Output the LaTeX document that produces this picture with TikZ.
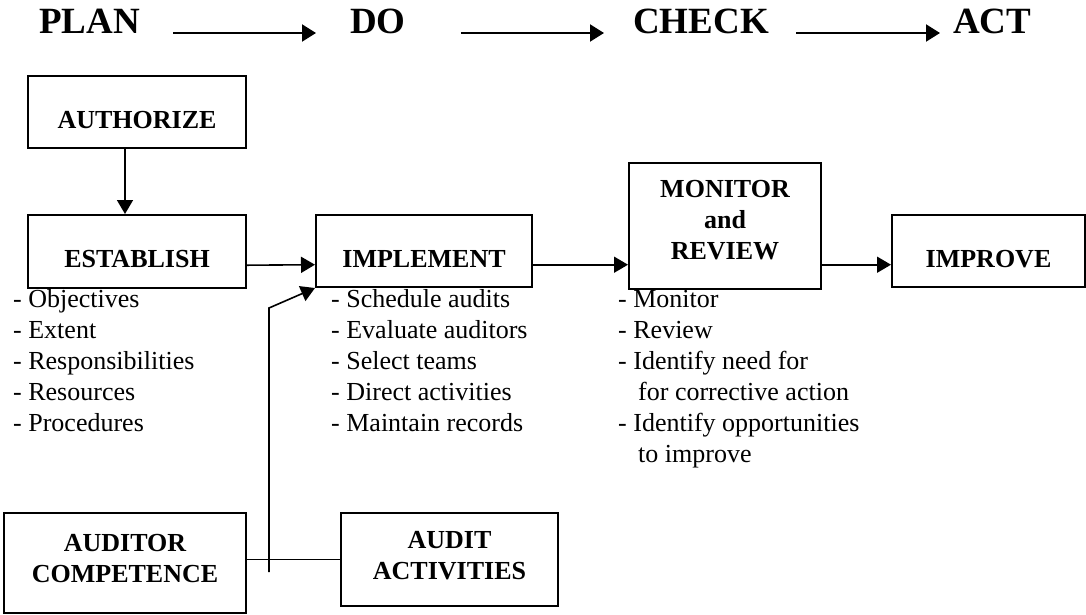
\documentclass[tikz,border=0pt]{standalone}
\usepackage{fontspec}
\setmainfont{Liberation Serif}
\usetikzlibrary{arrows.meta,positioning}

\tikzset{
	phase/.style={font=\fontsize{37}{44}\selectfont\bfseries, inner sep=0pt, anchor=base west},
	stage/.style={draw, line width=2pt, font=\fontsize{26}{31}\selectfont\bfseries, align=center},
	oneline/.style={text height=34pt, text depth=2pt},
	items/.style={font=\fontsize{26}{31}\selectfont, align=left, inner sep=0pt, anchor=base west},
	link/.style={line width=1.6pt, -{Triangle[length=14pt,width=16pt]}},
	bigarrow/.style={line width=2pt, -{Triangle[length=14pt,width=17pt]}}
}

\begin{document}
\begin{tikzpicture}[x=1pt, y=-1pt]
	\useasboundingbox (0,0) rectangle (1086,614);

	\node[phase] (plan) at (39,33) {PLAN};
	\node[phase] (do) at (350,33) {DO};
	\node[phase] (check) at (633,33) {CHECK};
	\node[phase] (act) at (953,33) {ACT};

	\draw[bigarrow] ([xshift=33pt]plan.base east) -- ([xshift=-34pt]do.base west);
	\draw[bigarrow] ([xshift=55pt]do.base east) -- ([xshift=-29pt]check.base west);
	\draw[bigarrow] ([xshift=27pt]check.base east) -- ([xshift=-13pt]act.base west);

	\node[stage, oneline, minimum width=218pt, minimum height=72pt] (auth) at (137,112) {AUTHORIZE};
	\node[stage, oneline, minimum width=218pt, minimum height=73pt] (est) at (137,251.5) {ESTABLISH};
	\node[stage, oneline, minimum width=216pt, minimum height=72pt] (impl) at (424,251) {IMPLEMENT};
	\node[stage, text depth=12pt, minimum width=192pt, minimum height=126pt] (mon) at (725,226) {MONITOR\\and\\REVIEW};
	\node[stage, oneline, minimum width=193pt, minimum height=72pt] (impr) at (988.5,251) {IMPROVE};
	\node[stage, text depth=9pt, minimum width=242pt, minimum height=100pt] (comp) at (125,563) {AUDITOR\\COMPETENCE};
	\node[stage, text depth=8pt, minimum width=217pt, minimum height=93pt] (acts) at (449.5,559.5) {AUDIT\\ACTIVITIES};

	\draw[link] ([xshift=-12pt]auth.south) -- ([xshift=-12pt]est.north);
	\draw[link] (est.mid east) -- (impl.mid west);
	\draw[link] (impl.mid east) -- (impl.mid east -| mon.west);
	\draw[link] (mon.east |- impr.mid west) -- (impr.mid west);
	\draw[line width=1.6pt] (comp.east |- acts.west) -- (acts.west);

	\coordinate (foot) at (269,572);
	\coordinate (bend) at (269,308);
	\draw[link] (foot) -- (bend) -- (impl.south west);

	\node[items] (estlist) at (13,431) {- Objectives\\- Extent\\- Responsibilities\\- Resources\\- Procedures};
	\node[items] (impllist) at (331,431) {- Schedule audits\\- Evaluate auditors\\- Select teams\\- Direct activities\\- Maintain records};
	\node[items] (monlist) at (618,462) {- Monitor\\- Review\\- Identify need for\\\hspace*{20pt}for corrective action\\- Identify opportunities\\\hspace*{20pt}to improve};
\end{tikzpicture}
\end{document}
